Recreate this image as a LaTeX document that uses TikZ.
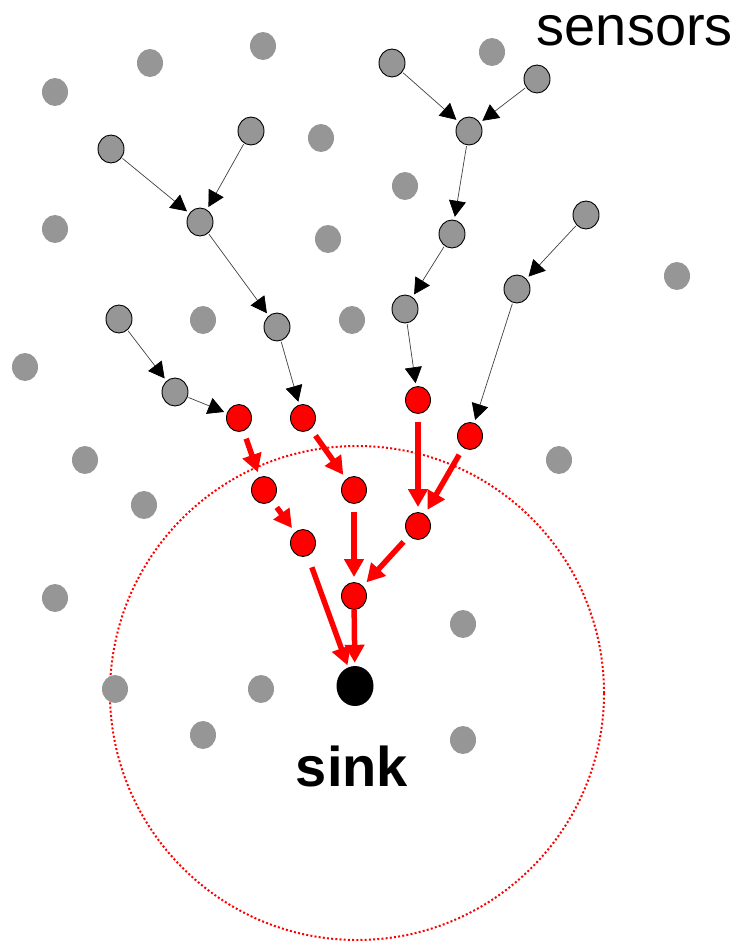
\documentclass[tikz,border=0pt]{standalone}
\usepackage{fontspec}
\setmainfont{Liberation Sans}
\usetikzlibrary{arrows.meta, shapes.geometric}
\definecolor{dotgray}{RGB}{150,150,150}
\tikzset{
    sensornet/.style={x=1pt, y=-1pt},
    idle/.style={ellipse, fill=dotgray, minimum width=26pt, minimum height=28pt, inner sep=0pt},
    relay/.style={idle, draw=black, line width=0.9pt},
    hot/.style={relay, fill=red, minimum width=25pt, minimum height=27pt},
    sinknode/.style={ellipse, fill=black, minimum width=37pt, minimum height=40pt, inner sep=0pt},
    hop/.style={-{Triangle[length=16pt, width=17pt, color=black]}, black!75, line width=0.7pt, shorten >=3pt, shorten <=1pt},
    fwd/.style={-{Triangle[length=18pt, width=19pt]}, red, line width=5.5pt, shorten >=5pt, shorten <=8pt},
    sinkrange/.style={red, line width=2pt, dash pattern=on 2pt off 2.2pt},
}

\begin{document}
\begin{tikzpicture}[sensornet]
    \useasboundingbox (0,0) rectangle (737,941);

    % radio range of the sink
    \draw[sinkrange] (357,693) circle[radius=247pt];

    % sensors that take no part
    \foreach \x/\y [count=\i] in {55/92, 150/63, 263/46, 321/138, 55/229, 328/239, 405/186,
        492/52, 677/276, 203/320, 352/320, 25/367, 85/460, 144/505, 559/460, 55/598,
        463/624, 115/689, 261/689, 203/735, 463/740}
        \node[idle] (d\i) at (\x,\y) {};

    % relaying sensors
    \node[relay] (g1)  at (111,149) {};
    \node[relay] (g2)  at (251,131) {};
    \node[relay] (g3)  at (200,222) {};
    \node[relay] (g4)  at (277,327) {};
    \node[relay] (g5)  at (119,319) {};
    \node[relay] (g6)  at (175,392) {};
    \node[relay] (g7)  at (392,63)  {};
    \node[relay] (g8)  at (537,79)  {};
    \node[relay] (g9)  at (469,131) {};
    \node[relay] (g10) at (452,234) {};
    \node[relay] (g11) at (405,309) {};
    \node[relay] (g12) at (586,215) {};
    \node[relay] (g13) at (517,289) {};

    % sensors near the sink
    \node[hot] (r1) at (239,418) {};
    \node[hot] (r2) at (303,418) {};
    \node[hot] (r3) at (264,490) {};
    \node[hot] (r4) at (354,490) {};
    \node[hot] (r5) at (303,543) {};
    \node[hot] (r6) at (354,596) {};
    \node[hot] (r7) at (418,400) {};
    \node[hot] (r8) at (470,436) {};
    \node[hot] (r9) at (418,526) {};

    \node[sinknode] (sink) at (355,686) {};

    \node[font=\fontsize{56}{60}\selectfont, anchor=base east, inner sep=0pt] (sensorslabel) at (733,46) {sensors};
    \node[font=\bfseries\fontsize{56}{60}\selectfont, anchor=base, inner sep=0pt] (sinklabel) at (352,786) {sink};

    \foreach \a/\b in {g1/g3, g2/g3, g3/g4, g4/r2, g5/g6, g6/r1, g7/g9, g8/g9,
        g9/g10, g10/g11, g11/r7, g12/g13, g13/r8}
        \draw[hop] (\a) -- (\b);

    \foreach \a/\b in {r1/r3, r3/r5, r2/r4, r4/r6, r7/r9, r8/r9, r9/r6}
        \draw[fwd] (\a) -- (\b);
    \draw[fwd, shorten <=12pt, shorten >=2pt] (r5) -- (sink);
    \draw[fwd, shorten <=0pt, shorten >=3pt] (r6) -- (sink);
\end{tikzpicture}
\end{document}
